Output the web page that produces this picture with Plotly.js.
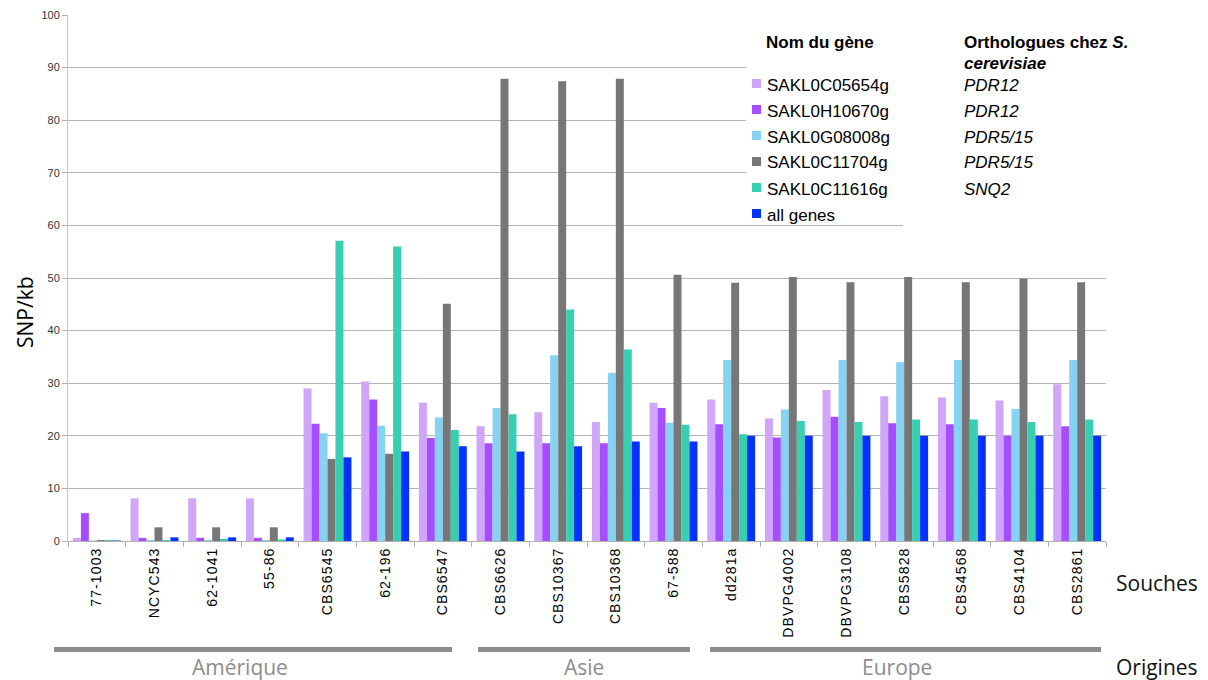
<!DOCTYPE html>
<html><head><meta charset="utf-8">
<script src="https://cdn.plot.ly/plotly-3.0.1.min.js"></script>
<style>html,body{margin:0;padding:0;background:#fff}
.xtick text{letter-spacing:1.1px}</style>
</head><body>
<div id="chart" style="width:1208px;height:680px"></div>
<script>
// ---- data ----
const strains = ['77-1003','NCYC543','62-1041','55-86','CBS6545','62-196','CBS6547','CBS6626','CBS10367','CBS10368','67-588','dd281a','DBVPG4002','DBVPG3108','CBS5828','CBS4568','CBS4104','CBS2861'];
const geneNames = ['SAKL0C05654g','SAKL0H10670g','SAKL0G08008g','SAKL0C11704g','SAKL0C11616g','all genes'];
const orthologues = ['PDR12','PDR12','PDR5/15','PDR5/15','SNQ2',''];
const geneColors = ['#cfa6f8','#a64dff','#86d2f2','#777777','#36cfb2','#0331ff'];

const SAKL0C05654g = [0.6, 8.1, 8.1, 8.1, 29.0, 30.3, 26.3, 21.8, 24.5, 22.6, 26.3, 26.9, 23.3, 28.7, 27.5, 27.3, 26.7, 29.8];
const SAKL0H10670g = [5.3, 0.6, 0.6, 0.6, 22.3, 26.9, 19.6, 18.6, 18.6, 18.6, 25.3, 22.2, 19.7, 23.6, 22.4, 22.2, 20.0, 21.8];
const SAKL0G08008g = [0.1, 0.2, 0.2, 0.2, 20.5, 21.9, 23.5, 25.3, 35.3, 32.0, 22.5, 34.4, 25.0, 34.4, 34.0, 34.4, 25.1, 34.4];
const SAKL0C11704g = [0.2, 2.6, 2.6, 2.6, 15.6, 16.6, 45.1, 87.9, 87.4, 87.9, 50.6, 49.1, 50.2, 49.2, 50.2, 49.2, 49.9, 49.2];
const SAKL0C11616g = [0.2, 0.2, 0.4, 0.3, 57.1, 56.0, 21.1, 24.1, 44.0, 36.4, 22.1, 20.3, 22.8, 22.6, 23.1, 23.1, 22.6, 23.1];
const allGenes     = [0.1, 0.7, 0.7, 0.7, 15.9, 17.0, 18.0, 17.0, 18.0, 18.9, 18.9, 20.0, 20.0, 20.0, 20.0, 20.0, 20.0, 20.0];
const seriesValues = [SAKL0C05654g, SAKL0H10670g, SAKL0G08008g, SAKL0C11704g, SAKL0C11616g, allGenes];

const regionNames = ['Amérique','Asie','Europe'];
const yTitle = 'SNP/kb';
const legendTitle = 'Nom du gène';

// ---- layout helpers (pixel -> paper) ----
const W = 1208, H = 680, ML = 68, MR = 102, MT = 15, MB = 139;
const PW = W - ML - MR, PH = H - MT - MB;
const px = x => (x - ML) / PW;
const py = y => (H - MB - y) / PH;

const traces = geneNames.map((name, i) => ({
  type: 'bar', name: name, x: strains, y: seriesValues[i],
  marker: {color: geneColors[i], line: {width: 0}},
  showlegend: false, hoverinfo: 'x+y+name'
}));

const shapes = [];
const annotations = [];
const sans = 'Liberation Sans, Arial, sans-serif';
const soft = 'Open Sans, sans-serif';

// white legend panel hiding gridlines
shapes.push({type:'rect', xref:'paper', yref:'paper', x0:px(746), x1:px(1140), y0:py(221), y1:py(5),
  fillcolor:'#ffffff', line:{width:0}, layer:'above'});
shapes.push({type:'rect', xref:'paper', yref:'paper', x0:px(903), x1:px(1140), y0:py(228), y1:py(220),
  fillcolor:'#ffffff', line:{width:0}, layer:'above'});

// legend header
annotations.push({xref:'paper', yref:'paper', x:px(764), y:py(42), xanchor:'left', yanchor:'middle',
  text:'<b>' + legendTitle + '</b>', showarrow:false, font:{family:sans, size:17, color:'#000'}});
annotations.push({xref:'paper', yref:'paper', x:px(962), y:py(42), xanchor:'left', yanchor:'middle',
  text:'<b>Orthologues chez <i>S.</i></b>', showarrow:false, font:{family:sans, size:17, color:'#000'}});
annotations.push({xref:'paper', yref:'paper', x:px(962), y:py(63), xanchor:'left', yanchor:'middle',
  text:'<b><i>cerevisiae</i></b>', showarrow:false, font:{family:sans, size:17, color:'#000'}});

const rowY = [85, 111, 137, 163, 189, 215];
geneNames.forEach((name, i) => {
  const cy = rowY[i];
  shapes.push({type:'rect', xref:'paper', yref:'paper', x0:px(752), x1:px(761), y0:py(cy+3), y1:py(cy-6),
    fillcolor:geneColors[i], line:{width:0}, layer:'above'});
  annotations.push({xref:'paper', yref:'paper', x:px(765), y:py(cy), xanchor:'left', yanchor:'middle',
    text:name, showarrow:false, font:{family:sans, size:17, color:'#000'}});
  if (orthologues[i]) {
    annotations.push({xref:'paper', yref:'paper', x:px(962), y:py(cy), xanchor:'left', yanchor:'middle',
      text:'<i>' + orthologues[i] + '</i>', showarrow:false, font:{family:sans, size:17, color:'#000'}});
  }
});

// y title
annotations.push({xref:'paper', yref:'paper', x:px(25), y:py(312), xanchor:'center', yanchor:'middle',
  text:yTitle, textangle:-90, showarrow:false, font:{family:soft, size:21, color:'#000'}});

// Souches / Origines
annotations.push({xref:'paper', yref:'paper', x:px(1114), y:py(583), xanchor:'left', yanchor:'middle',
  text:'Souches', showarrow:false, font:{family:soft, size:21, color:'#111'}});
annotations.push({xref:'paper', yref:'paper', x:px(1114), y:py(667), xanchor:'left', yanchor:'middle',
  text:'Origines', showarrow:false, font:{family:soft, size:21, color:'#111'}});

// region bars and labels
const regionLines = [[54, 452], [478, 690], [710, 1101]];
const regionLabelX = [240, 584, 897];
regionNames.forEach((r, i) => {
  shapes.push({type:'rect', xref:'paper', yref:'paper', x0:px(regionLines[i][0]), x1:px(regionLines[i][1]),
    y0:py(652), y1:py(647), fillcolor:'#8c8c8c', line:{width:0}});
  annotations.push({xref:'paper', yref:'paper', x:px(regionLabelX[i]), y:py(667), xanchor:'center', yanchor:'middle',
    text:r, showarrow:false, font:{family:soft, size:21, color:'#8c8c8c'}});
});

const layout = {
  width: W, height: H,
  margin: {l: ML, r: MR, t: MT, b: MB, pad: 0},
  paper_bgcolor: '#fff', plot_bgcolor: '#fff',
  barmode: 'group', bargap: 0.17, bargroupgap: 0,
  showlegend: false,
  xaxis: {
    type: 'category', tickangle: -90, tickfont: {family: sans, size: 14, color: '#000'},
    showline: true, linecolor: '#b0b0b0', linewidth: 1,
    ticks: 'outside', tickson: 'boundaries', ticklen: 5, tickcolor: '#b0b0b0',
    showgrid: false, automargin: false
  },
  yaxis: {
    range: [0, 100], dtick: 10, tick0: 0,
    tickfont: {family: sans, size: 11, color: '#333'},
    showline: true, linecolor: '#c8c8c8', linewidth: 1,
    ticks: 'outside', ticklen: 5, tickcolor: '#b0b0b0',
    showgrid: true, gridcolor: '#b4b4b4', gridwidth: 1,
    zeroline: false, automargin: false
  },
  shapes: shapes,
  annotations: annotations
};

Plotly.newPlot('chart', traces, layout, {displayModeBar: false, staticPlot: true});
</script>
</body></html>
